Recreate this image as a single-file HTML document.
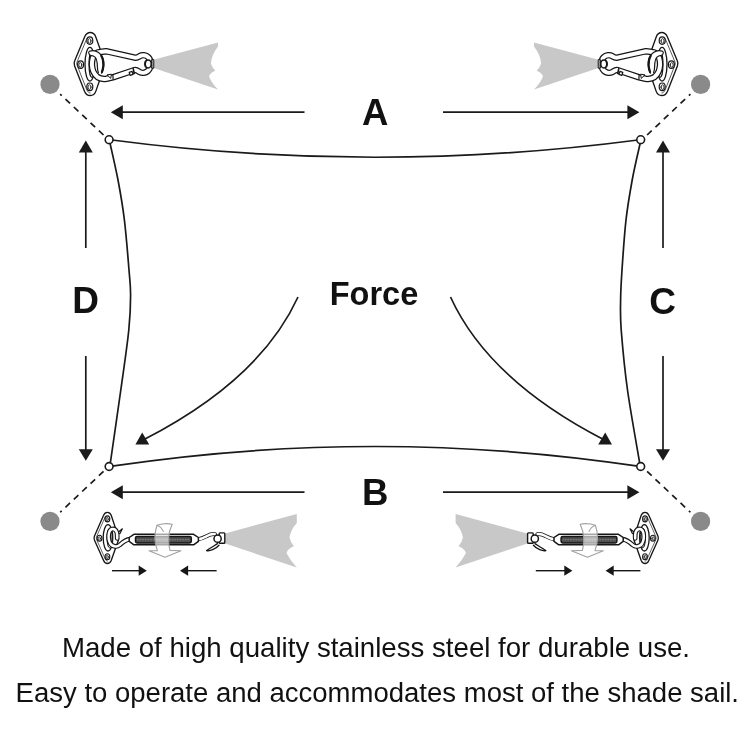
<!DOCTYPE html>
<html><head><meta charset="utf-8"><title>Shade sail hardware</title>
<style>
html,body{margin:0;padding:0;background:#fff;}
body{width:750px;height:750px;overflow:hidden;position:relative;font-family:"Liberation Sans",Arial,sans-serif;}
svg{position:absolute;left:0;top:0;display:block;will-change:transform;}
text{font-family:"Liberation Sans",Arial,sans-serif;fill:#111;}
.b{font-weight:bold;}
.ln{stroke:#1a1a1a;stroke-width:1.7;fill:none;}
.ah{fill:#1a1a1a;stroke:none;}
</style></head><body>
<svg width="750" height="750" viewBox="0 0 750 750">
<defs>
  <!-- pad eye + snap hook + sail corner (top-left orientation) -->
  <g id="snap" stroke-linecap="round" stroke-linejoin="round">
    <path d="M154.400 59.400 L218 42.600 L218 46.500 Q211.500 55 210.800 63.600 Q212.500 68 215.400 70.800 Q210.500 72.500 209 76.200 Q211.500 83 218 89.400 L154.400 68.200 Z" fill="#c8c8c8"/>
    <!-- plate -->
    <path d="M90.200 32.500 C93 32.500 94.600 33.800 95.600 36.600 L104.400 61 C105 63 105 64.500 104.400 66.200 L95.800 91.400 C94.800 94.200 93 95.500 90.200 95.500 C87.400 95.500 85.800 94.200 84.600 91.400 L74.600 66 C73.800 64 73.800 62.800 74.600 61 L84.800 36.600 C86 33.800 87.400 32.500 90.200 32.500 Z" fill="#fff" stroke="#161616" stroke-width="1.350"/>
    <path d="M86.800 38.600 L77 62 C76.600 63 76.600 63.800 77 65 L86.600 89.400 C87.600 91.800 88.600 92.900 90.200 93" fill="none" stroke="#161616" stroke-width="0.700"/>
    <g fill="#fff" stroke="#161616" stroke-width="1.200">
      <ellipse cx="89.800" cy="40.600" rx="3" ry="3.800"/>
      <ellipse cx="80.600" cy="64.600" rx="3" ry="3.800"/>
      <ellipse cx="89.800" cy="86.800" rx="3" ry="3.800"/>
      <ellipse cx="89.500" cy="40.900" rx="1.500" ry="2.300" stroke-width="0.900"/>
      <ellipse cx="80.300" cy="64.900" rx="1.500" ry="2.300" stroke-width="0.900"/>
      <ellipse cx="89.500" cy="87.100" rx="1.500" ry="2.300" stroke-width="0.900"/>
    </g>
    <!-- staple -->
    <ellipse cx="89.900" cy="64.200" rx="4.900" ry="16.800" fill="#fff" stroke="#161616" stroke-width="1.300"/>
    <ellipse cx="92" cy="64.600" rx="3" ry="12.800" fill="#fff" stroke="#161616" stroke-width="1.100"/>
    <!-- snap hook body as a tube (white filled hole) -->
    <path d="M100 52 L106 51.200 L134.800 57.600 C136.500 58 138 57.200 139.600 56.200 C142 54.700 146 55 148.400 57.400 C150.300 59.300 150.600 62 150.600 64 C150.600 66.500 150 69 147.800 71 C145.500 73.100 142 73.400 139.600 72 C138 71 136.500 69.500 134.800 70 L112.800 77.400 L106.400 78.700 C100.500 79.600 95.800 77 93.400 71.500 C91.800 67.500 91.600 62 92.800 58 C94.300 54 97 52.200 100 52 Z" fill="#fff" stroke="#161616" stroke-width="6.500"/>
    <path d="M100 52 L106 51.200 L134.800 57.600 C136.500 58 138 57.200 139.600 56.200 C142 54.700 146 55 148.400 57.400 C150.300 59.300 150.600 62 150.600 64 C150.600 66.500 150 69 147.800 71 C145.500 73.100 142 73.400 139.600 72 C138 71 136.500 69.500 134.800 70 L112.800 77.400 L106.400 78.700 C100.500 79.600 95.800 77 93.400 71.500 C91.800 67.500 91.600 62 92.800 58 C94.300 54 97 52.200 100 52 Z" fill="none" stroke="#fff" stroke-width="4"/>
    <!-- upper wrap (crescent) -->
    <path d="M89.400 51.200 C92 50.300 96 50.700 98.500 52.400 C101.500 54.500 103.400 58 103.800 62 C104.200 66 103.600 70 101.600 73.200 L98.400 72.600 C97.200 70 97.400 66 97.200 63.400 C97 60.500 96.400 58.400 95.300 57.300 C94 56 92.500 55.500 90.700 55.300 C88.600 55 88.200 52 89.400 51.200 Z" fill="#fff"/>
    <path d="M101.600 73.200 C103.600 70 104.200 66 103.800 62 C103.400 58 101.500 54.500 98.500 52.400 C96 50.700 92 50.300 89.400 51.200 C88.200 52 88.600 55 90.700 55.300 C92.500 55.500 94 56 95.300 57.300 C96.400 58.400 97 60.500 97.200 63.400 C97.400 66 97.200 70 98.400 72.600" fill="none" stroke="#161616" stroke-width="1.200"/>
    <path d="M101.200 55.600 C102.800 58 103.400 62 103.300 65 C103.200 68 102.700 70 101.900 72" fill="none" stroke="#161616" stroke-width="2.100"/>
    <!-- gate details -->
    <path d="M107.400 74.800 L111.400 74.200 L110.800 78 Z" fill="#fff" stroke="#161616" stroke-width="1"/>
    <path d="M112.900 74.600 L113.100 79.200" fill="none" stroke="#161616" stroke-width="1.200"/>
    <path d="M133.200 68.600 L134.300 73.400" fill="none" stroke="#161616" stroke-width="1.600"/>
    <rect x="129.600" y="71.800" width="3.100" height="3.100" fill="#fff" stroke="#161616" stroke-width="1.250" transform="rotate(-18 131.200 73.400)"/>
    <!-- swivel ring -->
    <ellipse cx="148.100" cy="63.900" rx="3.100" ry="4" fill="#fff" stroke="#161616" stroke-width="1.500"/>
    <path d="M145.600 61.400 Q144.500 64 145.600 66.600" fill="none" stroke="#161616" stroke-width="1.800"/>
    <rect x="151.900" y="59.600" width="2" height="8.600" fill="#8e8e8e" stroke="#161616" stroke-width="0.900"/>
  </g>
  <!-- pad eye + turnbuckle + sail corner (bottom-left orientation) -->
  <g id="turn" stroke-linecap="round" stroke-linejoin="round">
    <path d="M225.200 533.400 L296.800 514 L296.800 522.900 Q290.500 530 289.500 537.500 Q290.500 542.500 293.900 546.300 Q288 548.500 286.500 552.900 Q290 560 296.800 567.600 L225.200 543.400 Z" fill="#c8c8c8"/>
    <!-- plate -->
    <path d="M107.400 512.300 C109.400 512.300 110.400 513.200 111.200 515.300 L118.200 536.400 C118.700 537.900 118.700 539.200 118.200 540.700 L111.200 560.500 C110.400 562.600 109.400 563.500 107.400 563.500 C105.400 563.500 104.400 562.600 103.600 560.500 L94.500 540.300 C93.800 538.700 93.800 537.500 94.500 535.900 L103.600 515.300 C104.400 513.200 105.400 512.300 107.400 512.300 Z" fill="#fff" stroke="#161616" stroke-width="1.350"/>
    <path d="M105.200 516.800 L96.600 536.600 C96.200 537.600 96.200 538.600 96.600 539.600 L105.200 558.800 C105.900 560.400 106.400 561.100 107.400 561.200" fill="none" stroke="#161616" stroke-width="0.650"/>
    <g fill="#fff" stroke="#161616" stroke-width="1.100">
      <ellipse cx="107.400" cy="518.900" rx="2.400" ry="3"/>
      <ellipse cx="99.500" cy="538.300" rx="2.400" ry="3"/>
      <ellipse cx="107.400" cy="556.700" rx="2.400" ry="3"/>
      <ellipse cx="107.200" cy="519.100" rx="1.100" ry="1.700" stroke-width="0.800"/>
      <ellipse cx="99.300" cy="538.500" rx="1.100" ry="1.700" stroke-width="0.800"/>
      <ellipse cx="107.200" cy="556.900" rx="1.100" ry="1.700" stroke-width="0.800"/>
    </g>
    <ellipse cx="108" cy="537.800" rx="4.800" ry="13.200" fill="#fff" stroke="#161616" stroke-width="1.300"/>
    <ellipse cx="109.600" cy="538" rx="2.600" ry="9.800" fill="#fff" stroke="#161616" stroke-width="1"/>
    <!-- left hook -->
    <path d="M117.200 533 L122.400 528.800 L120 533.600 Z" fill="#fff" stroke="#161616" stroke-width="1.150"/>
    <path d="M130 539.200 C126 539.600 123.500 541.400 120 544.700 C118.200 546.200 116.500 546.700 115.200 546.400 C113 546.100 111.200 545.400 110.200 543.400 C108.700 540.600 108.400 536 109 533 C109.500 530.800 110.600 529.400 112.200 529 C114.200 528.700 116 530 116.800 532.400 C117.200 534 117.300 536.400 117.200 538.400" fill="none" stroke="#161616" stroke-width="4.700"/>
    <path d="M130.400 539.200 C126 539.600 123.500 541.400 120 544.700 C118.200 546.200 116.500 546.700 115.200 546.400 C113 546.100 111.200 545.400 110.200 543.400 C108.700 540.600 108.400 536 109 533 C109.500 530.800 110.600 529.400 112.200 529 C114.200 528.700 116 530 116.800 532.400 C117.200 534 117.300 536.400 117.200 538.400" fill="none" stroke="#fff" stroke-width="2.500"/>
    <!-- right hook -->
    <rect x="219.200" y="532.900" width="5.600" height="10.400" rx="0.800" fill="#fff" stroke="#161616" stroke-width="1.400"/>
    <path d="M217.500 543.600 C214 545.800 209.500 548.400 206.600 550.600 C209.800 551.400 215.500 549.200 219 545.200" fill="#fff" stroke="#161616" stroke-width="1.300"/>
    <path d="M198 539.200 C202 538.800 204 537.600 207 536 C210 534.400 212.500 533.800 215 534.200" fill="none" stroke="#161616" stroke-width="4"/>
    <path d="M197.600 539.200 C202 538.800 204 537.600 207 536 C210 534.400 212.500 533.800 215 534.200" fill="none" stroke="#fff" stroke-width="2.500"/>
    <circle cx="217.600" cy="538.700" r="3.600" fill="#fff" stroke="#161616" stroke-width="1.500"/>
    <!-- body -->
    <path d="M129.200 537.500 L133.900 534.300 L193.600 534.300 L198.400 537.500 L198.400 541.400 L193.600 544.800 L133.900 544.800 L129.200 541.400 Z" fill="#fff" stroke="#161616" stroke-width="1.500"/>
    <rect x="135.500" y="536.400" width="55.800" height="6.500" rx="1.600" fill="#505050" stroke="#161616" stroke-width="1.500"/>
    <line x1="137" y1="539.600" x2="190" y2="539.600" stroke="#8c8c8c" stroke-width="1.400" stroke-dasharray="0.700 0.900" stroke-linecap="butt"/>
    <!-- rotation arrow -->
    <path d="M157 525.200 Q165 522.800 172.200 524.200 Q166.200 537 170 550.400 L181 550.800 L165 557.200 L149 550.800 L157.400 550.600 Q152.600 538 157 525.200 Z" fill="#fff" fill-opacity="0.620" stroke="#a2a2a2" stroke-width="1.150"/>
    <path d="M157 525.200 Q161.500 527 163.400 531.500" fill="none" stroke="#a2a2a2" stroke-width="1.050"/>
    <!-- small arrows -->
    <g stroke-linecap="butt">
    <line x1="112" y1="570.700" x2="140" y2="570.700" stroke="#161616" stroke-width="1.400"/>
    <path d="M146.800 570.700 L138.700 565.600 L138.700 575.800 Z" fill="#161616"/>
    <line x1="187" y1="570.700" x2="216.600" y2="570.700" stroke="#161616" stroke-width="1.400"/>
    <path d="M180 570.700 L188.100 565.600 L188.100 575.800 Z" fill="#161616"/>
    </g>
  </g>
</defs>

<!-- sail outline -->
<path d="M112 140 Q375 174.500 638 140" class="ln"/>
<path d="M112 466.200 Q375 426.800 638 466.200" class="ln"/>
<path d="M110.200 144 C111.500 150 115.600 167.300 118 180 C120.400 192.700 122.600 205 124.400 220 C126.200 235 128 257.500 129 270 C130 282.500 130.600 285 130.600 295 C130.600 305 130.400 314.200 128.800 330 C127.200 345.800 123.900 367.900 120.800 390 C117.700 412.100 112.100 450.400 110.400 462.500" class="ln"/>
<path d="M640 144 C638.700 150 634.500 167.300 632.200 180 C629.900 192.700 627.700 205 626 220 C624.300 235 622.900 256.700 622 270 C621.100 283.300 620.700 290 620.600 300 C620.500 310 620.100 315 621.200 330 C622.400 345 624.400 367.900 627.500 390 C630.600 412.100 637.600 450.400 639.600 462.500" class="ln"/>
<!-- dashed ropes -->
<g stroke="#1a1a1a" stroke-width="1.700" stroke-dasharray="6.300 5.200" fill="none">
  <line x1="103.500" y1="135" x2="60.200" y2="94.150"/>
  <line x1="647.100" y1="135" x2="690.400" y2="94.150"/>
  <line x1="103.500" y1="471.400" x2="60.200" y2="512.250"/>
  <line x1="647.100" y1="471.400" x2="690.400" y2="512.250"/>
</g>
<!-- corner rings -->
<g fill="#fff" stroke="#1a1a1a" stroke-width="1.600">
  <circle cx="109.100" cy="139.700" r="3.900"/>
  <circle cx="640.700" cy="139.700" r="3.900"/>
  <circle cx="109.100" cy="466.500" r="3.900"/>
  <circle cx="640.700" cy="466.500" r="3.900"/>
</g>
<!-- anchor dots -->
<g fill="#8a8a8a">
  <circle cx="50" cy="84.400" r="9.600"/>
  <circle cx="700.600" cy="84.400" r="9.600"/>
  <circle cx="50" cy="521.400" r="9.600"/>
  <circle cx="700.600" cy="521.400" r="9.600"/>
</g>

<!-- dimension arrows -->
<g stroke="#1a1a1a" stroke-width="1.700">
  <line x1="120" y1="112.200" x2="304.500" y2="112.200"/>
  <line x1="443" y1="112.200" x2="630" y2="112.200"/>
  <line x1="120" y1="492.200" x2="304.500" y2="492.200"/>
  <line x1="443" y1="492.200" x2="630" y2="492.200"/>
  <line x1="85.800" y1="150" x2="85.800" y2="248"/>
  <line x1="85.800" y1="356" x2="85.800" y2="452"/>
  <line x1="663" y1="150" x2="663" y2="248"/>
  <line x1="663" y1="356" x2="663" y2="452"/>
</g>
<g class="ah">
  <path d="M110.800 112.200 L122.800 105.200 L122.800 119.200 Z"/>
  <path d="M639.400 112.200 L627.400 105.200 L627.400 119.200 Z"/>
  <path d="M110.800 492.200 L122.800 485.200 L122.800 499.200 Z"/>
  <path d="M639.400 492.200 L627.400 485.200 L627.400 499.200 Z"/>
  <path d="M85.800 140.600 L78.800 152.500 L92.800 152.500 Z"/>
  <path d="M85.800 460.800 L78.800 449.200 L92.800 449.200 Z"/>
  <path d="M663 140.600 L656 152.500 L670 152.500 Z"/>
  <path d="M663 460.800 L656 449.200 L670 449.200 Z"/>
</g>

<!-- force arrows -->
<path d="M298 297 Q260 380 144 439.500" class="ln"/>
<path d="M135.400 444.400 L149.200 444.400 L142.200 432.400 Z" class="ah"/>
<path d="M450.500 297 Q488.500 380 603.500 439.500" class="ln"/>
<path d="M612 444.400 L598.200 444.400 L605.200 432.400 Z" class="ah"/>

<!-- hardware -->
<use href="#snap"/>
<use href="#snap" transform="translate(752 0) scale(-1 1)"/>
<use href="#turn"/>
<use href="#turn" transform="translate(752.400 0) scale(-1 1)"/>

<!-- labels -->
<text x="375.100" y="125.400" text-anchor="middle" class="b" font-size="36.500">A</text>
<text x="375.200" y="505.200" text-anchor="middle" class="b" font-size="36.600">B</text>
<text x="85.600" y="313.200" text-anchor="middle" class="b" font-size="37">D</text>
<text x="662.600" y="313.600" text-anchor="middle" class="b" font-size="37">C</text>
<text x="374" y="305.200" text-anchor="middle" class="b" font-size="32.500">Force</text>

<text x="376" y="657" text-anchor="middle" font-size="27.640">Made of high quality stainless steel for durable use.</text>
<text x="377.300" y="701.500" text-anchor="middle" font-size="27.520">Easy to operate and accommodates most of the shade sail.</text>
</svg>
</body></html>
